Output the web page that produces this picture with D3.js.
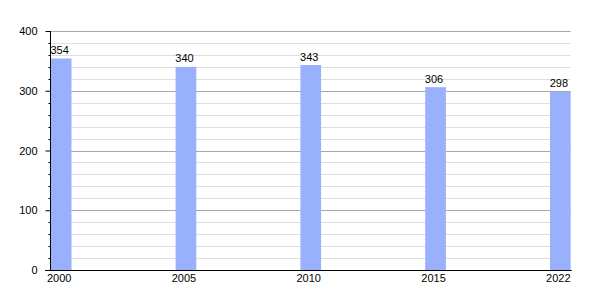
<!DOCTYPE html>
<html><head><meta charset="utf-8">
<script src="https://cdn.jsdelivr.net/npm/d3@7"></script>
<style>body{margin:0;background:#fff}svg{display:block}text{font-family:"Liberation Sans",Arial,sans-serif;font-size:11px;fill:#000}</style>
</head><body><svg id="c" width="600" height="300"></svg>
<script>
const years = ["2000","2005","2010","2015","2022"];
const population = [354,340,343,306,298];
const yTicks = [0,100,200,300,400];

const svg = d3.select("#c");
const x0 = 50.8, barW = 20.7, step = 124.8;
const x = d3.scalePoint().domain(years).range([x0, x0 + step*(years.length-1)]);
const y = d3.scaleLinear().domain([0,400]).range([270,31]);
const right = x0 + step*(years.length-1) + barW;

// minor gridlines
const minor = d3.range(20,401,20).filter(v=>v%100!==0);
svg.selectAll("line.minor").data(minor).join("line")
  .attr("x1",50.5).attr("x2",right).attr("y1",d=>Math.round(y(d))+0.5).attr("y2",d=>Math.round(y(d))+0.5)
  .attr("stroke","#dedede");
svg.selectAll("line.major").data(yTicks.filter(v=>v>0)).join("line")
  .attr("x1",50.5).attr("x2",right).attr("y1",d=>Math.round(y(d))+0.5).attr("y2",d=>Math.round(y(d))+0.5)
  .attr("stroke","#a8a8a8");

// bars
svg.selectAll("rect.bar").data(years).join("rect")
  .attr("x",d=>x(d)).attr("width",barW)
  .attr("y",(d,i)=>y(population[i])).attr("height",(d,i)=>y(0)-y(population[i]))
  .attr("fill","#99b1fd");

// value labels
svg.selectAll("text.val").data(years).join("text")
  .attr("x",d=>x(d)+barW/2-1.5).attr("y",(d,i)=>y(population[i])-4.5)
  .attr("text-anchor","middle").text((d,i)=>population[i]);

// y axis
const yAxis = d3.axisLeft(y).tickValues(yTicks).tickSize(5).tickPadding(8).tickFormat(d3.format("d"));
const gy = svg.append("g").attr("transform","translate(50.5,0)").call(yAxis);
gy.select(".domain").attr("d",`M0,${y(400)}V${y(0)}`).attr("stroke","#000");
gy.selectAll(".tick line").attr("stroke","#000");
gy.selectAll(".tick text").style("font-family",'"Liberation Sans",Arial,sans-serif').style("font-size","11px").attr("fill","#000");
// minor ticks
gy.selectAll("line.mt").data(minor).join("line")
  .attr("x1",-2).attr("x2",0).attr("y1",d=>Math.round(y(d))+0.5).attr("y2",d=>Math.round(y(d))+0.5).attr("stroke","#000");

// x axis
svg.append("line").attr("x1",45).attr("x2",right+1).attr("y1",270.5).attr("y2",270.5).attr("stroke","#000");
svg.selectAll("text.xl").data(years).join("text")
  .attr("x",d=>x(d)+barW/2-2).attr("y",282)
  .attr("text-anchor","middle").text(d=>d);
</script></body></html>
